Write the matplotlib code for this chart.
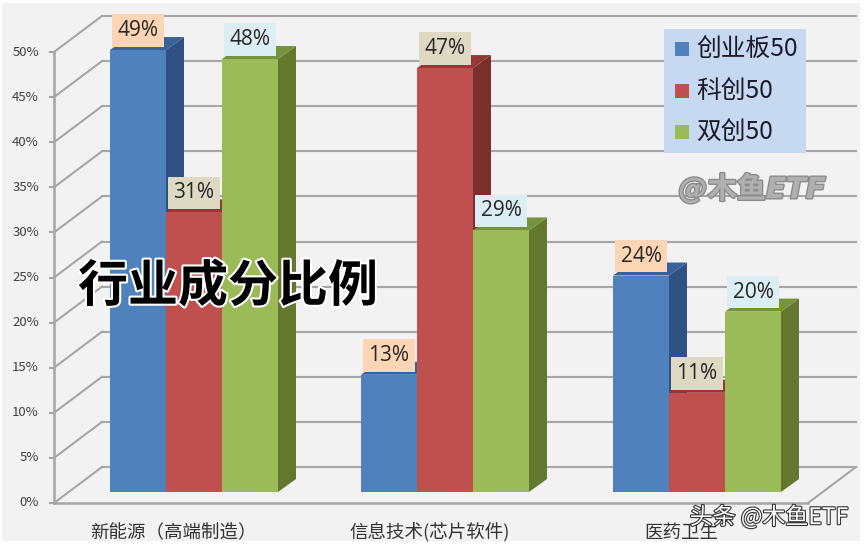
import matplotlib
matplotlib.use("Agg")
import matplotlib.pyplot as plt
import matplotlib.patheffects as pe
from matplotlib.patches import Polygon, Rectangle

plt.rcParams['font.family'] = ['Noto Sans CJK SC', 'DejaVu Sans']

categories = ["新能源（高端制造）", "信息技术(芯片软件)", "医药卫生"]
series_names = ["创业板50", "科创50", "双创50"]
chuangye = [49, 13, 24]
kechuang = [31, 47, 11]
shuangchuang = [48, 29, 20]
y_ticks = [0, 5, 10, 15, 20, 25, 30, 35, 40, 45, 50]

# x is in pixels, y is in percent above the bar floor
PX = 9.02
FLOOR_PX = 492
W, H = 866, 544

front_colors = ["#4f81bd", "#c0504d", "#9bbb59"]
side_colors = ["#2f5183", "#7c302e", "#64772f"]
top_colors = ["#3a6298", "#953735", "#76923c"]
label_colors = ["#fcd5b4", "#ddd9c3", "#dbeef4"]
group_left = [110, 361, 613]
bar_w = 56
depth_x = 18
depth_y = 13 / PX
grid_color = "#a6a6a6"


def main():
    fig = plt.figure(figsize=(W / 100, H / 100), dpi=100, facecolor="white")
    ax = fig.add_axes([0, 0, 1, 1])
    ax.set_xlim(0, W)
    ax.set_ylim((FLOOR_PX - H) / PX, FLOOR_PX / PX)
    ax.axis("off")

    ax.add_patch(Rectangle((2, (FLOOR_PX - 541) / PX), 858, 538 / PX,
                           fc="#f2f2f2", ec="none", zorder=0))

    # walls and gridlines
    front_off = -11 / PX
    back_off = 25 / PX
    for t in y_ticks:
        yf = t + front_off
        yb = t + back_off
        ax.plot([54, 102], [yf, yb], color=grid_color, lw=1.5, zorder=1)
        ax.plot([102, 856], [yb, yb], color=grid_color, lw=1.5, zorder=1)
        ax.plot([50, 54], [yf, yf], color=grid_color, lw=1.5, zorder=1)
        ax.text(39, yf, f"{t}%", ha="right", va="center", fontsize=9.5,
                color="#404040", zorder=2)
    ax.plot([54, 54], [front_off, 50 + front_off], color=grid_color, lw=1.8, zorder=1)
    ax.plot([54, 808], [front_off, front_off], color=grid_color, lw=1.8, zorder=1)
    ax.plot([808, 856], [front_off, back_off], color=grid_color, lw=1.5, zorder=1)

    # bars, painted left to right so the next front hides the side before it
    all_values = [chuangye, kechuang, shuangchuang]
    z = 3
    for g, left in enumerate(group_left):
        for s, values in enumerate(all_values):
            v = values[g]
            x0 = left + s * bar_w
            x1 = x0 + bar_w
            ax.add_patch(Polygon([(x1, 0), (x1 + depth_x, depth_y),
                                  (x1 + depth_x, v + depth_y), (x1, v)],
                                 fc=side_colors[s], ec="none", zorder=z))
            ax.add_patch(Polygon([(x0, v), (x1, v), (x1 + depth_x, v + depth_y),
                                  (x0 + depth_x, v + depth_y)],
                                 fc=top_colors[s], ec="none", zorder=z))
            ax.add_patch(Rectangle((x0, 0), bar_w, v, fc=front_colors[s],
                                   ec="none", zorder=z + 0.5))
            z += 1

    # value labels sit above the bars
    for g, left in enumerate(group_left):
        for s, values in enumerate(all_values):
            v = values[g]
            ax.annotate(f"{v}%", (left + s * bar_w + bar_w / 2, v),
                        xytext=(0, 14), textcoords="offset points",
                        ha="center", va="center", fontsize=15, color="#262626",
                        family=["Open Sans", "DejaVu Sans"], zorder=30,
                        bbox=dict(boxstyle="square,pad=0.28", fc=label_colors[s], ec="none"))

    # category labels
    for name, cx in zip(categories, [173, 430, 681]):
        ax.text(cx, (FLOOR_PX - 533) / PX, name, ha="center", va="center",
                fontsize=13.3, color="#333333", zorder=2)

    # legend box
    ax.add_patch(Rectangle((664, (FLOOR_PX - 153) / PX), 142, 124 / PX,
                           fc="#c6d9f1", ec="none", zorder=20))
    for name, color, py in zip(series_names, front_colors, [49, 91, 132]):
        ax.add_patch(Rectangle((675, (FLOOR_PX - py - 7) / PX), 14, 14 / PX,
                               fc=color, ec="none", zorder=21))
        ax.text(696, (FLOOR_PX - py) / PX, name, ha="left", va="center",
                fontsize=17.8, color="#1a1a2a", zorder=21)

    # overlaid texts
    ax.text(228, (FLOOR_PX - 287) / PX, "行业成分比例", ha="center", va="center",
            fontsize=36, fontweight="bold", color="black", zorder=40,
            path_effects=[pe.withStroke(linewidth=3, foreground="white")])
    ax.text(752, (FLOOR_PX - 189) / PX, "@木鱼ETF", ha="center", va="center",
            fontsize=21, fontweight="bold", style="italic", color="#b0b0b0", zorder=40,
            family=["DejaVu Sans", "Noto Sans CJK SC"],
            path_effects=[pe.withStroke(linewidth=2, foreground="#8c8c8c")])
    ax.text(769, (FLOOR_PX - 517) / PX, "头条 @木鱼ETF", ha="center", va="center",
            fontsize=16.5, color="white", zorder=40,
            path_effects=[pe.withStroke(linewidth=1.6, foreground="#333333")])

    fig.savefig("out.png", dpi=100)


if __name__ == "__main__":
    main()
